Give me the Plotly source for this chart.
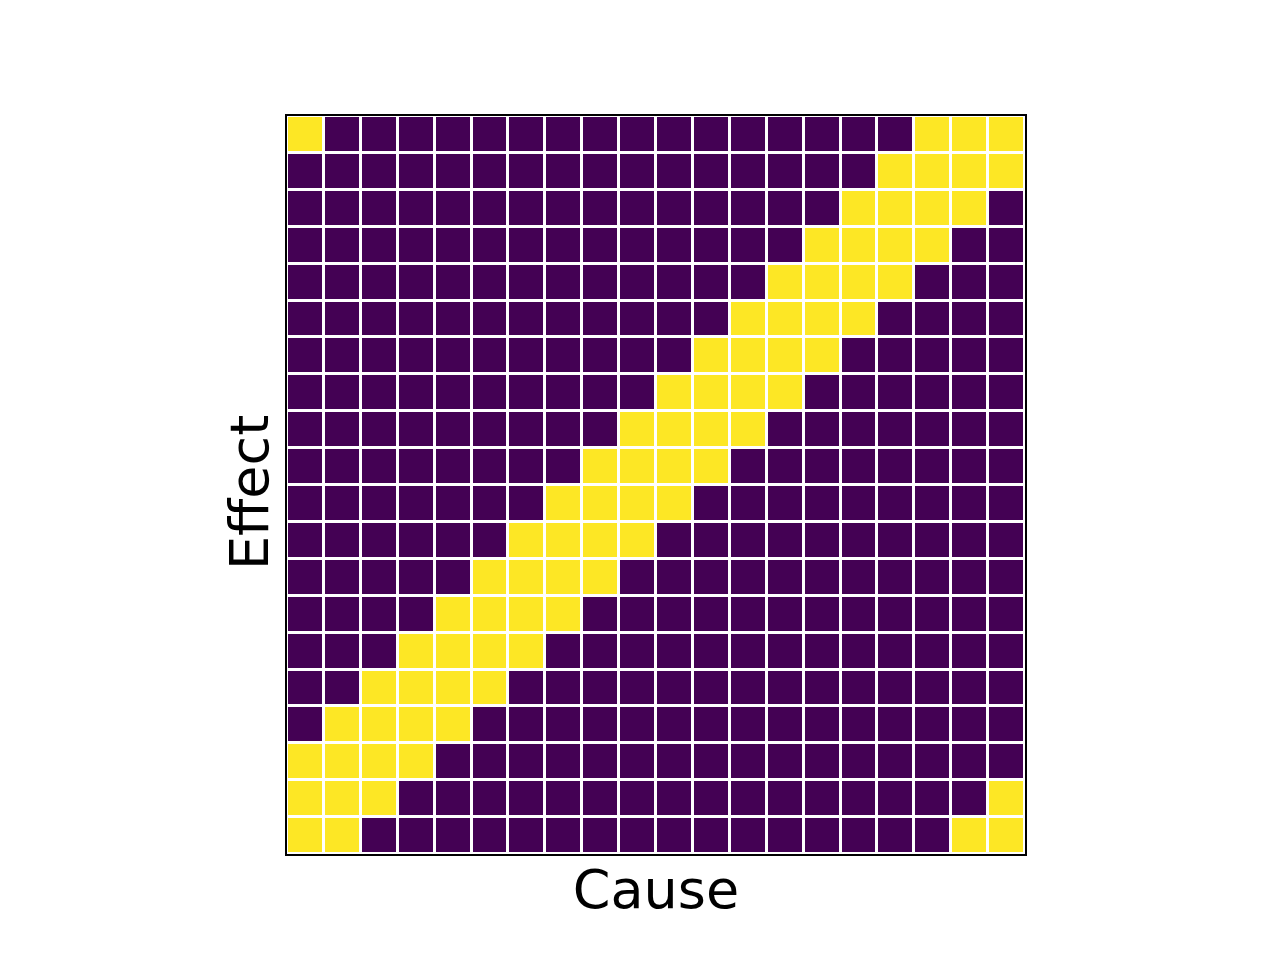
import plotly.graph_objects as go

# Effect rows listed from bottom (row 0) to top (row 19); columns are Cause 0..19
effect_rows = [
    [1,1,0,0,0,0,0,0,0,0,0,0,0,0,0,0,0,0,1,1],
    [1,1,1,0,0,0,0,0,0,0,0,0,0,0,0,0,0,0,0,1],
    [1,1,1,1,0,0,0,0,0,0,0,0,0,0,0,0,0,0,0,0],
    [0,1,1,1,1,0,0,0,0,0,0,0,0,0,0,0,0,0,0,0],
    [0,0,1,1,1,1,0,0,0,0,0,0,0,0,0,0,0,0,0,0],
    [0,0,0,1,1,1,1,0,0,0,0,0,0,0,0,0,0,0,0,0],
    [0,0,0,0,1,1,1,1,0,0,0,0,0,0,0,0,0,0,0,0],
    [0,0,0,0,0,1,1,1,1,0,0,0,0,0,0,0,0,0,0,0],
    [0,0,0,0,0,0,1,1,1,1,0,0,0,0,0,0,0,0,0,0],
    [0,0,0,0,0,0,0,1,1,1,1,0,0,0,0,0,0,0,0,0],
    [0,0,0,0,0,0,0,0,1,1,1,1,0,0,0,0,0,0,0,0],
    [0,0,0,0,0,0,0,0,0,1,1,1,1,0,0,0,0,0,0,0],
    [0,0,0,0,0,0,0,0,0,0,1,1,1,1,0,0,0,0,0,0],
    [0,0,0,0,0,0,0,0,0,0,0,1,1,1,1,0,0,0,0,0],
    [0,0,0,0,0,0,0,0,0,0,0,0,1,1,1,1,0,0,0,0],
    [0,0,0,0,0,0,0,0,0,0,0,0,0,1,1,1,1,0,0,0],
    [0,0,0,0,0,0,0,0,0,0,0,0,0,0,1,1,1,1,0,0],
    [0,0,0,0,0,0,0,0,0,0,0,0,0,0,0,1,1,1,1,0],
    [0,0,0,0,0,0,0,0,0,0,0,0,0,0,0,0,1,1,1,1],
    [1,0,0,0,0,0,0,0,0,0,0,0,0,0,0,0,0,1,1,1],
]
cause_idx = list(range(20))
effect_idx = list(range(20))
x_label = "Cause"
y_label = "Effect"

fig = go.Figure(go.Heatmap(
    z=effect_rows, x=cause_idx, y=effect_idx,
    colorscale=[[0, "#440154"], [1, "#fde725"]],
    zmin=0, zmax=1, showscale=False, xgap=3, ygap=3,
    hoverinfo="skip",
))

fig.update_layout(
    width=1280, height=960,
    margin=dict(l=279, r=263, t=108, b=114),
    paper_bgcolor="white", plot_bgcolor="white",
    font=dict(family="DejaVu Sans", color="black"),
    annotations=[dict(
        text=y_label, textangle=-90, xref="paper", yref="paper",
        x=0, y=0.5, xanchor="center", yanchor="middle",
        xshift=-38, yshift=-8, showarrow=False,
        font=dict(size=54, family="DejaVu Sans", color="black"),
    )],
)
fig.update_xaxes(
    range=[-0.5, 19.5], showticklabels=False, ticks="", showgrid=False, zeroline=False,
    showline=True, linecolor="black", linewidth=2, mirror=True,
    title=dict(text=x_label, font=dict(size=54, family="DejaVu Sans"), standoff=15),
)
fig.update_yaxes(
    range=[-0.5, 19.5], showticklabels=False, ticks="", showgrid=False, zeroline=False,
    showline=True, linecolor="black", linewidth=2, mirror=True,
)

fig.write_html("out.html")
